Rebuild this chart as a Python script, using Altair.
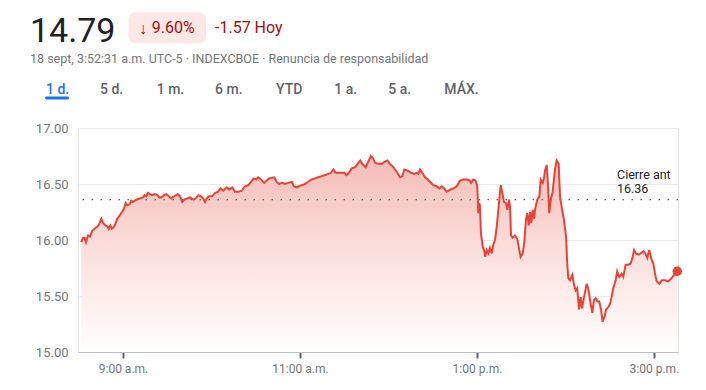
import altair as alt
import pandas as pd

# ---- data (minutes after midnight, index value) ----
minutes = [
    511.7, 512.9, 514.0, 514.9, 516.3, 517.6, 519.0, 520.8, 522.6, 523.9,
    525.3, 526.6, 528.0, 529.4, 530.3, 531.4, 532.5, 533.9, 534.8, 536.1,
    537.8, 539.3, 540.7, 541.8, 542.9, 544.5, 545.6, 546.8, 549.0, 551.3,
    553.6, 554.7, 555.8, 557.0, 558.3, 559.7, 561.5, 563.3, 564.6, 566.0,
    567.8, 569.4, 571.0, 572.7, 574.6, 576.1, 577.1, 578.6, 580.2, 581.6,
    583.2, 585.4, 587.7, 589.3, 591.1, 592.9, 594.4, 595.6, 596.7, 598.3,
    600.5, 602.4, 604.2, 606.2, 608.0, 610.3, 612.1, 614.1, 615.9, 618.2,
    620.5, 622.7, 625.0, 626.8, 628.6, 630.2, 631.7, 633.6, 635.8, 637.4,
    639.0, 642.6, 644.2, 645.8, 648.0, 649.8, 652.1, 654.4, 655.9, 657.8,
    659.3, 661.2, 663.4, 665.6, 667.9, 670.2, 672.4, 674.7, 677.0, 679.2,
    681.0, 682.6, 684.2, 687.1, 690.0, 691.4, 693.2, 695.1, 697.3, 699.1,
    700.9, 702.2, 704.6, 706.3, 708.1, 709.5, 710.9, 713.1, 715.4, 717.6,
    719.2, 721.0, 723.3, 725.6, 727.8, 729.4, 730.7, 733.0, 735.3, 737.5,
    739.1, 740.2, 741.4, 742.9, 744.8, 746.6, 748.1, 750.4, 752.7, 754.5,
    756.1, 757.8, 759.5, 761.7, 763.9, 766.3, 768.5, 770.7, 773.4, 775.1,
    776.0, 777.5, 779.1, 780.2, 780.9, 781.6, 782.0, 782.7, 783.9, 784.8,
    785.6, 786.6, 787.7, 788.8, 790.0, 791.1, 792.2, 793.4, 794.5, 796.1,
    797.2, 798.3, 799.7, 800.6, 801.7, 802.4, 803.1, 804.2, 805.8, 807.3,
    808.7, 809.6, 811.0, 812.1, 813.2, 814.1, 815.1, 816.0, 816.8, 817.8,
    818.7, 819.5, 820.9, 822.3, 823.2, 824.6, 825.4, 826.3, 827.3, 828.2,
    829.0, 830.0, 831.3, 832.9, 834.0, 835.4, 836.3, 837.6, 839.0, 840.4,
    841.2, 841.9, 843.1, 844.7, 845.8, 846.9, 848.0, 849.2, 850.3, 851.2,
    852.6, 854.4, 855.7, 857.1, 858.2, 859.3, 860.5, 861.8, 862.9, 864.1,
    865.2, 866.6, 867.5, 869.0, 870.2, 871.3, 872.4, 874.0, 875.1, 876.5,
    878.1, 879.2, 880.8, 882.6, 884.2, 885.6, 886.5, 887.8, 889.4, 891.0,
    892.8, 894.1, 895.5, 896.8, 898.5, 899.6, 900.7, 901.9, 903.6, 905.4,
    907.5, 909.7, 912.0, 914.3, 915.8,
]
values = [
    15.98, 16.02, 16.02, 15.98, 16.04, 16.03, 16.08, 16.10, 16.12, 16.14,
    16.19, 16.15, 16.13, 16.12, 16.10, 16.13, 16.10, 16.12, 16.14, 16.19,
    16.22, 16.25, 16.28, 16.33, 16.31, 16.32, 16.35, 16.34, 16.36, 16.37,
    16.38, 16.40, 16.39, 16.42, 16.41, 16.40, 16.41, 16.40, 16.38, 16.38,
    16.40, 16.41, 16.39, 16.37, 16.39, 16.40, 16.41, 16.39, 16.34, 16.36,
    16.37, 16.38, 16.36, 16.37, 16.40, 16.39, 16.37, 16.34, 16.37, 16.39,
    16.39, 16.42, 16.43, 16.46, 16.44, 16.47, 16.45, 16.47, 16.43, 16.43,
    16.44, 16.48, 16.49, 16.52, 16.55, 16.54, 16.56, 16.54, 16.51, 16.53,
    16.55, 16.56, 16.52, 16.50, 16.51, 16.50, 16.51, 16.52, 16.48, 16.47,
    16.48, 16.49, 16.50, 16.52, 16.54, 16.55, 16.56, 16.57, 16.58, 16.59,
    16.60, 16.63, 16.60, 16.60, 16.60, 16.58, 16.60, 16.64, 16.65, 16.68,
    16.71, 16.68, 16.65, 16.70, 16.75, 16.73, 16.69, 16.68, 16.68, 16.70,
    16.71, 16.68, 16.65, 16.61, 16.56, 16.57, 16.63, 16.62, 16.60, 16.59,
    16.60, 16.59, 16.63, 16.60, 16.56, 16.54, 16.52, 16.49, 16.48, 16.46,
    16.48, 16.46, 16.43, 16.45, 16.46, 16.48, 16.53, 16.54, 16.54, 16.53,
    16.51, 16.54, 16.53, 16.48, 16.24, 16.33, 16.31, 16.06, 15.94, 15.91,
    15.85, 15.91, 15.88, 15.93, 15.88, 15.96, 16.00, 16.12, 16.27, 16.49,
    16.42, 16.34, 16.33, 16.27, 16.36, 16.30, 16.04, 16.02, 16.04, 16.01,
    15.91, 15.85, 15.88, 15.98, 16.18, 16.24, 16.13, 16.25, 16.15, 16.27,
    16.19, 16.28, 16.36, 16.39, 16.54, 16.51, 16.55, 16.63, 16.67, 16.48,
    16.24, 16.36, 16.43, 16.63, 16.71, 16.68, 16.39, 16.28, 16.18, 16.03,
    15.79, 15.66, 15.64, 15.69, 15.60, 15.55, 15.57, 15.38, 15.49, 15.39,
    15.49, 15.61, 15.55, 15.43, 15.35, 15.46, 15.48, 15.45, 15.45, 15.38,
    15.27, 15.32, 15.38, 15.40, 15.43, 15.49, 15.57, 15.64, 15.72, 15.67,
    15.70, 15.67, 15.78, 15.78, 15.79, 15.85, 15.91, 15.88, 15.87, 15.88,
    15.90, 15.88, 15.84, 15.91, 15.82, 15.79, 15.70, 15.63, 15.61, 15.64,
    15.64, 15.63, 15.66, 15.70, 15.72,
]

prev_close = 16.36
y_ticks = [15.0, 15.5, 16.0, 16.5, 17.0]
x_ticks = [540, 660, 780, 900]
x_labels = ["9:00 a.m.", "11:00 a.m.", "1:00 p.m.", "3:00 p.m."]
tabs = ["1 d.", "5 d.", "1 m.", "6 m.", "YTD", "1 a.", "5 a.", "MÁX."]
price_text = "14.79"
pct_text = "9.60%"
abs_text = "-1.57 Hoy"
subtitle = "18 sept, 3:52:31 a.m. UTC-5 · INDEXCBOE · Renuncia de responsabilidad"
close_label = ["Cierre ant", "16.36"]

df = pd.DataFrame({"m": minutes, "p": values})

FONT = "Roboto"
RED = "#ea4335"
xs = alt.Scale(domain=[509.5, 916.3], nice=False, zero=False)
ys = alt.Scale(domain=[15, 17], nice=False, zero=False)

label_expr = "[" + ",".join("'%s'" % s for s in x_labels) + "][round((datum.value-540)/120)]"

x_enc = alt.X(
    "m:Q", scale=xs, title=None,
    axis=alt.Axis(values=x_ticks, labelExpr=label_expr, grid=False, domain=True,
                  domainColor="#bdc1c6", domainWidth=1, ticks=True, tickColor="#5f6368",
                  tickSize=6, tickWidth=2, labelFont=FONT, labelFontSize=12,
                  labelColor="#70757a", labelPadding=5),
)
y_enc = alt.Y(
    "p:Q", scale=ys, title=None,
    axis=alt.Axis(values=y_ticks, format=".2f", grid=True, gridColor="#e8eaed",
                  domain=False, ticks=False, labelFont=FONT, labelFontSize=13,
                  labelColor="#70757a", labelPadding=10),
)

area = alt.Chart(df).mark_area(
    color=alt.Gradient(
        gradient="linear",
        stops=[alt.GradientStop(color="#ffffff", offset=0),
               alt.GradientStop(color="#fbe0dd", offset=0.5),
               alt.GradientStop(color="#f5bbb6", offset=1)],
        x1=1, x2=1, y1=1, y2=0,
    ),
).encode(x=x_enc, y=y_enc, y2=alt.datum(15))

line = alt.Chart(df).mark_line(color=RED, strokeWidth=2).encode(
    x=alt.X("m:Q", scale=xs), y=alt.Y("p:Q", scale=ys))

dot = alt.Chart(df.tail(1)).mark_circle(color=RED, size=90, opacity=1).encode(
    x=alt.X("m:Q", scale=xs), y=alt.Y("p:Q", scale=ys))

rule = alt.Chart(pd.DataFrame({"v": [prev_close]})).mark_rule(
    color="#5f6368", strokeDash=[1.5, 7.5], strokeWidth=1.3
).encode(y=alt.Y("v:Q", scale=ys))


def txt(s, x, y, size, color, weight=400, align="left"):
    return alt.Chart(pd.DataFrame({"t": [s]})).mark_text(
        font=FONT, fontSize=size, fontWeight=weight, color=color,
        align=align, baseline="alphabetic",
    ).encode(text="t:N", x=alt.value(x), y=alt.value(y))


def box(x1, x2, y1, y2, color, r):
    return alt.Chart(pd.DataFrame({"a": [0]})).mark_rect(
        color=color, cornerRadius=r
    ).encode(x=alt.value(x1), x2=alt.value(x2), y=alt.value(y1), y2=alt.value(y2))


layers = [area, rule, line, dot]
layers.append(txt(close_label[0], 539, 50.8, 12.5, "#202124"))
layers.append(txt(close_label[1], 539, 64.6, 12.5, "#202124"))

# header
layers.append(txt(price_text, -48, -86.3, 34, "#202124"))
layers.append(box(50.3, 128, -115.7, -84.7, "#fce8e6", 7))
layers.append(txt("↓", 65, -94.2, 16, "#a50e0e", align="center"))
layers.append(txt(pct_text, 73.7, -94.7, 16, "#a50e0e"))
layers.append(txt(abs_text, 137, -94.7, 16, "#a50e0e"))
layers.append(txt(subtitle, -48, -64.7, 12.5, "#70757a"))

tab_x = [-32, 22, 78.7, 137, 198, 256.3, 310.3, 366.3]
for i, (t, tx) in enumerate(zip(tabs, tab_x)):
    layers.append(txt(t, tx, -34, 14, "#1a73e8" if i == 0 else "#5f6368", weight=500))
layers.append(box(-33, -9, -31.5, -28.5, "#1a73e8", 1.5))

chart = alt.layer(*layers).properties(
    width=600, height=224,
    autosize=alt.AutoSizeParams(type="none"),
    padding={"left": 70, "top": 120, "right": 20, "bottom": 30},
).configure_view(stroke=None).configure(background="#ffffff")

chart.save("out.html", embed_options={"renderer": "svg", "actions": False})
